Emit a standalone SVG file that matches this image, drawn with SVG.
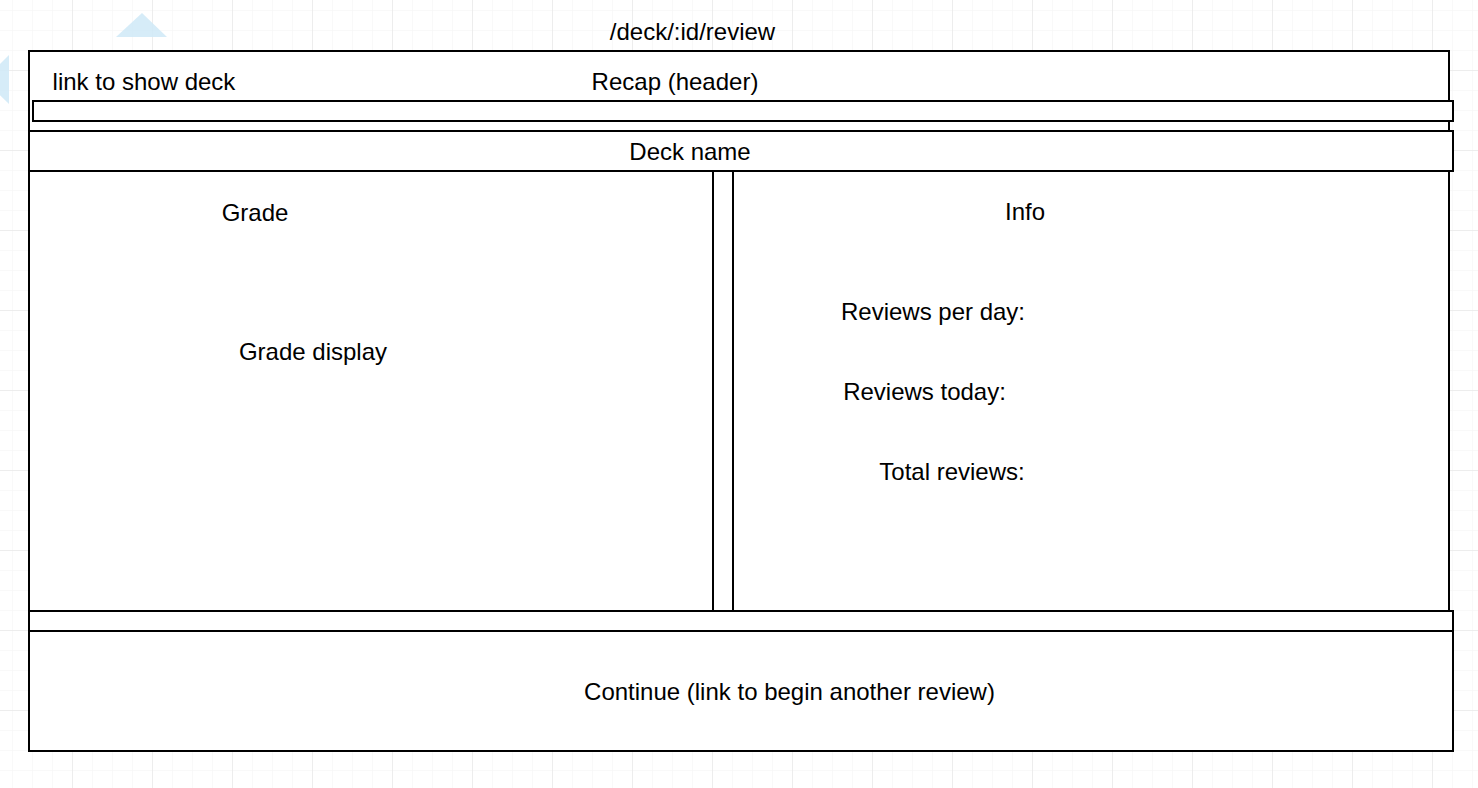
<svg xmlns="http://www.w3.org/2000/svg" width="1478" height="788" viewBox="0 0 1478 788">
  <defs>
    <pattern id="gridMinor" x="12" y="10" width="20" height="20" patternUnits="userSpaceOnUse">
      <path d="M0 0V20M0 0H20" fill="none" stroke="#f3f3f3" stroke-width="1"/>
    </pattern>
    <pattern id="gridMajor" x="72" y="70" width="80" height="80" patternUnits="userSpaceOnUse">
      <path d="M0 0V80M0 0H80" fill="none" stroke="#e2e2e2" stroke-width="1"/>
    </pattern>
  </defs>
  <style>
    .box { fill: #ffffff; stroke: #000000; stroke-width: 2; }
    .lbl { font-family: "Liberation Sans", Arial, Helvetica, sans-serif; font-size: 24px; fill: #000000; text-anchor: middle; }
    .hint { fill: #cfe9f7; opacity: 0.85; }
  </style>

  <!-- canvas grid -->
  <rect width="1478" height="788" fill="#ffffff"/>
  <rect width="1478" height="788" fill="url(#gridMinor)"/>
  <rect width="1478" height="788" fill="url(#gridMajor)"/>

  <!-- editor hover arrows -->
  <g id="hover-arrows">
    <polygon class="hint" points="116,37 142,13 167,37"/>
    <polygon class="hint" points="9,55 9,104 -16,80"/>
  </g>

  <g id="route-title">
    <text class="lbl" x="692.5" y="40">/deck/:id/review</text>
  </g>

  <g id="page">
    <rect class="box" x="29" y="51" width="1420" height="560"/>
  </g>

  <g id="header">
    <text class="lbl" x="144" y="90">link to show deck</text>
    <text class="lbl" x="675" y="90">Recap (header)</text>
    <rect class="box" x="33" y="101" width="1420" height="20"/>
  </g>

  <g id="deck-name">
    <rect class="box" x="29" y="131" width="1424" height="40"/>
    <text class="lbl" x="690" y="160">Deck name</text>
  </g>

  <g id="grade-panel">
    <text class="lbl" x="255" y="221">Grade</text>
    <text class="lbl" x="313" y="360">Grade display</text>
  </g>

  <g id="divider">
    <rect class="box" x="713" y="171" width="20" height="440"/>
  </g>

  <g id="info-panel">
    <text class="lbl" x="1025" y="220">Info</text>
    <text class="lbl" x="933" y="320">Reviews per day:</text>
    <text class="lbl" x="924.5" y="400">Reviews today:</text>
    <text class="lbl" x="952" y="480">Total reviews:</text>
  </g>

  <g id="footer-bar">
    <rect class="box" x="29" y="611" width="1424" height="20"/>
  </g>

  <g id="continue">
    <rect class="box" x="29" y="631" width="1424" height="120"/>
    <text class="lbl" x="789.5" y="700">Continue (link to begin another review)</text>
  </g>

  <g id="connectors"/>
</svg>
